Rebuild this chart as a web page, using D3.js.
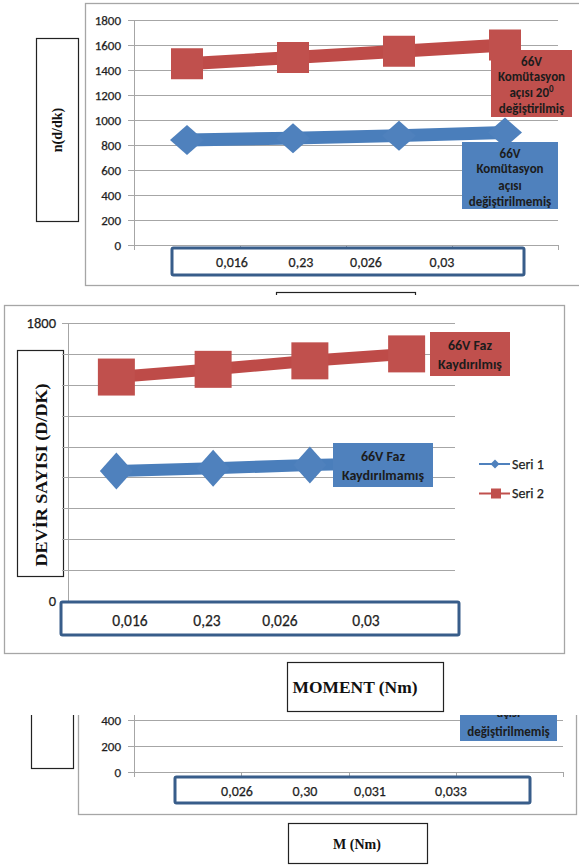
<!DOCTYPE html>
<html>
<head>
<meta charset="utf-8">
<script src="https://cdn.jsdelivr.net/npm/d3@7"></script>
<style>
  html, body { margin: 0; padding: 0; background: #fff; }
  svg { display: block; }
  .tick-label { font-family: Carlito, Lato, "Open Sans", sans-serif; fill: #1e1e1e; stroke: #1e1e1e; stroke-width: 0.25px; }
  .box-text { font-family: Carlito, Lato, "Open Sans", sans-serif; font-weight: bold; fill: #1c1c1c; }
  .title { font-family: "Liberation Serif", "DejaVu Serif", serif; font-weight: bold; fill: #111; }
</style>
</head>
<body>
<svg id="chart" width="579" height="866"></svg>
<script>
// ---- data ----
const categories = ["K1", "K2", "K3", "K4"];

// Komütasyon açısı chart (speed, d/dk)
const komutasyonDegismemis = [840, 855, 875, 900];
const komutasyon20 = [1450, 1500, 1550, 1600];

// Faz kaydırma chart (speed, d/dk)
const fazKaydirilmamis = [842, 860, 880, 895];
const fazKaydirilmis = [1450, 1500, 1555, 1600];

// Moment labels written under each chart
const momentLabelsA = ["0,016", "0,23", "0,026", "0,03"];
const momentLabelsB = ["0,026", "0,30", "0,031", "0,033"];

// Axis ticks
const gridValues = [0, 200, 400, 600, 800, 1000, 1200, 1400, 1600, 1800];
const yTickLabelsFull = [0, 200, 400, 600, 800, 1000, 1200, 1400, 1600, 1800];
const yTickLabelsLow = [0, 200, 400];
const yTickLabelsEnds = [0, 1800];
const seriesNames = ["Seri 1", "Seri 2"];

// ---- styles ----
const RED = "#C0504D", RED_LINE = "#BE4B48";
const BLUE = "#4F81BD", BLUE_LINE = "#4A7EBB";
const GRID = "#A6A6A6", FRAME = "#A6A6A6", BOX_BLUE = "#385D8A";

const svg = d3.select("#chart");

function diamondPath(w, h) {
  return `M0,${-h / 2}L${w / 2},0L0,${h / 2}L${-w / 2},0Z`;
}

function drawGrid(g, y, x0, x1, values) {
  g.selectAll(null).data(values).join("line")
    .attr("x1", x0 - 6).attr("x2", x1)
    .attr("y1", d => Math.round(y(d)) + 0.5).attr("y2", d => Math.round(y(d)) + 0.5)
    .attr("stroke", GRID).attr("stroke-width", 1);
}

function drawYAxis(g, y, x0, values, fontSize, pad) {
  const ax = d3.axisLeft(y).tickValues(values).tickSize(0).tickPadding(pad).tickFormat(d3.format("d"));
  const a = g.append("g").attr("transform", `translate(${x0},0)`).call(ax);
  a.select(".domain").remove();
  a.selectAll("text").attr("class", "tick-label").style("font-size", fontSize + "px")
    .attr("font-family", null);
  g.append("line").attr("x1", x0 + 0.5).attr("x2", x0 + 0.5)
    .attr("y1", y.range()[1]).attr("y2", y.range()[0] + 5)
    .attr("stroke", GRID);
}

function drawXTicks(g, x, yBase) {
  const edges = categories.map(c => x(c) + x.bandwidth()).concat([x(categories[0])]);
  g.append("line").attr("x1", x.range()[0]).attr("x2", x.range()[1])
    .attr("y1", yBase + 0.5).attr("y2", yBase + 0.5).attr("stroke", GRID);
  g.selectAll(null).data(edges).join("line")
    .attr("x1", d => Math.round(d) + 0.5).attr("x2", d => Math.round(d) + 0.5)
    .attr("y1", yBase).attr("y2", yBase + 5).attr("stroke", GRID);
}

function drawSeries(g, x, y, values, color, lineColor, lw, marker) {
  const pts = values.map((v, i) => [x(categories[i]) + x.bandwidth() / 2, y(v)]);
  g.append("path").attr("d", d3.line()(pts)).attr("fill", "none")
    .attr("stroke", lineColor).attr("stroke-width", lw).attr("stroke-linejoin", "round");
  if (marker.type === "square") {
    g.selectAll(null).data(pts).join("rect")
      .attr("x", d => d[0] - marker.w / 2).attr("y", d => d[1] - marker.h / 2)
      .attr("width", marker.w).attr("height", marker.h).attr("fill", color);
  } else {
    g.selectAll(null).data(pts).join("path")
      .attr("transform", d => `translate(${d[0]},${d[1]})`)
      .attr("d", diamondPath(marker.w, marker.h)).attr("fill", color);
  }
}

function labelBox(g, x, y, w, h, fill, lines, lineYs, fontSize) {
  g.append("rect").attr("x", x).attr("y", y).attr("width", w).attr("height", h).attr("fill", fill);
  lines.forEach((ln, i) => {
    const t = g.append("text").attr("class", "box-text").attr("x", x + w / 2).attr("y", lineYs[i])
      .attr("text-anchor", "middle").attr("dominant-baseline", "central")
      .style("font-size", fontSize + "px");
    if (Array.isArray(ln)) {
      t.append("tspan").text(ln[0]);
      t.append("tspan").text(ln[1]).attr("dy", -4).style("font-size", (fontSize - 4) + "px");
    } else {
      t.text(ln);
    }
  });
}

function axisBox(g, x0, y0, x1, y1, labels, labelXs, ly, fontSize) {
  g.append("rect").attr("x", x0).attr("y", y0).attr("width", x1 - x0).attr("height", y1 - y0)
    .attr("fill", "#fff").attr("stroke", BOX_BLUE).attr("stroke-width", 3).attr("rx", 1.5);
  g.selectAll(null).data(labels).join("text").attr("class", "tick-label")
    .attr("x", (d, i) => labelXs[i]).attr("y", ly)
    .attr("text-anchor", "middle").attr("dominant-baseline", "central")
    .style("font-size", fontSize + "px").text(d => d);
}

function titleBox(g, x, y, w, h) {
  g.append("rect").attr("x", x + 0.5).attr("y", y + 0.5).attr("width", w).attr("height", h)
    .attr("fill", "#fff").attr("stroke", "#222").attr("stroke-width", 1.2);
}

// ================= Chart C (bottom, partly covered) =================
{
  const g = svg.append("g");
  g.append("rect").attr("x", 78.5).attr("y", 470.5).attr("width", 498).attr("height", 344)
    .attr("fill", "#fff").attr("stroke", FRAME).attr("stroke-width", 1.3);
  titleBox(g, 31, 560, 42, 208);
  const x = d3.scaleBand().domain(categories).range([134, 563]);
  const y = d3.scaleLinear().domain([0, 1800]).range([772, 538]);
  drawGrid(g, y, 134, 563, gridValues);
  drawYAxis(g, y, 134, yTickLabelsLow, 13, 13);
  drawXTicks(g, x, 772);
  labelBox(g, 460, 674, 97, 67, BLUE, ["açısı", "değiştirilmemiş"], [712, 731], 13);
  axisBox(g, 175, 777, 530, 803, momentLabelsB, [237, 305, 370, 451], 791, 14);
  titleBox(g, 288, 823, 139, 40);
  g.append("text").attr("class", "title").attr("x", 357).attr("y", 844)
    .attr("text-anchor", "middle").attr("dominant-baseline", "central")
    .style("font-size", "14px").text("M (Nm)");
}

// ================= Chart A (top) =================
{
  const g = svg.append("g");
  g.append("rect").attr("x", 85.5).attr("y", 3.5).attr("width", 600).attr("height", 282)
    .attr("fill", "#fff").attr("stroke", FRAME).attr("stroke-width", 1.3);
  titleBox(g, 36, 38, 42, 183);
  g.append("text").attr("class", "title")
    .attr("transform", "translate(57,130) rotate(-90)")
    .attr("text-anchor", "middle").attr("dominant-baseline", "central")
    .style("font-size", "14px").text("n(d/dk)");
  const x = d3.scaleBand().domain(categories).range([134, 558]);
  const y = d3.scaleLinear().domain([0, 1800]).range([245, 20]);
  drawGrid(g, y, 134, 558, gridValues);
  drawYAxis(g, y, 134, yTickLabelsFull, 13, 13);
  drawXTicks(g, x, 245);
  drawSeries(g, x, y, komutasyon20, RED, RED_LINE, 13, { type: "square", w: 32, h: 31 });
  drawSeries(g, x, y, komutasyonDegismemis, BLUE, BLUE_LINE, 13, { type: "diamond", w: 34, h: 30 });
  labelBox(g, 491, 50, 81, 67, RED,
    ["66V", "Komütasyon", ["açısı 20", "0"], "değiştirilmiş"], [61, 76, 92, 108], 13);
  labelBox(g, 462, 142, 96, 67, BLUE,
    ["66V", "Komütasyon", "açısı", "değiştirilmemiş"], [153, 168, 185, 201], 13);
  axisBox(g, 172, 248, 524, 275, momentLabelsA, [232, 301, 366, 442], 262, 14);
  titleBox(g, 276, 292, 139, 40);
}

// ================= Chart B (middle, on top) =================
{
  const g = svg.append("g");
  g.append("rect").attr("x", 0).attr("y", 295).attr("width", 579).attr("height", 420).attr("fill", "#fff");
  g.append("rect").attr("x", 4.5).attr("y", 305.5).attr("width", 560).attr("height", 348)
    .attr("fill", "#fff").attr("stroke", FRAME).attr("stroke-width", 1.3);
  titleBox(g, 17, 350, 46, 226);
  g.append("text").attr("class", "title")
    .attr("transform", "translate(41,475) rotate(-90)")
    .attr("text-anchor", "middle").attr("dominant-baseline", "central")
    .attr("textLength", 183).attr("lengthAdjust", "spacingAndGlyphs")
    .style("font-size", "17px").text("DEVİR SAYISI (D/DK)");
  const x = d3.scaleBand().domain(categories).range([68, 455]);
  const y = d3.scaleLinear().domain([0, 1800]).range([601, 323]);
  drawGrid(g, y, 68, 455, gridValues);
  drawYAxis(g, y, 68, yTickLabelsEnds, 14.5, 12);
  drawSeries(g, x, y, fazKaydirilmis, RED, RED_LINE, 12, { type: "square", w: 37, h: 37 });
  drawSeries(g, x, y, fazKaydirilmamis, BLUE, BLUE_LINE, 12, { type: "diamond", w: 33, h: 37 });
  labelBox(g, 430, 332, 80, 44, RED, ["66V Faz", "Kaydırılmış"], [345, 364], 14);
  labelBox(g, 333, 443, 100, 44, BLUE, ["66V Faz", "Kaydırılmamış"], [456, 475], 14);

  // legend
  const leg = g.append("g");
  seriesNames.forEach((name, i) => {
    const ly = 464 + i * 29.5;
    const col = i === 0 ? BLUE : RED;
    leg.append("line").attr("x1", 479).attr("x2", 510).attr("y1", ly).attr("y2", ly)
      .attr("stroke", col).attr("stroke-width", 2);
    if (i === 0) {
      leg.append("path").attr("transform", `translate(495,${ly})`).attr("d", diamondPath(9, 9)).attr("fill", col);
    } else {
      leg.append("rect").attr("x", 491).attr("y", ly - 5).attr("width", 10).attr("height", 10).attr("fill", col);
    }
    leg.append("text").attr("class", "tick-label").attr("x", 512).attr("y", ly)
      .attr("dominant-baseline", "central").style("font-size", "14px").text(name);
  });

  axisBox(g, 61, 602, 459, 635, momentLabelsA, [130, 207, 280, 366], 620, 15.5);
  titleBox(g, 287, 662, 156, 49);
  g.append("text").attr("class", "title").attr("x", 355).attr("y", 687)
    .attr("text-anchor", "middle").attr("dominant-baseline", "central")
    .attr("textLength", 125).attr("lengthAdjust", "spacingAndGlyphs")
    .style("font-size", "17px").text("MOMENT (Nm)");
}
</script>
</body>
</html>
